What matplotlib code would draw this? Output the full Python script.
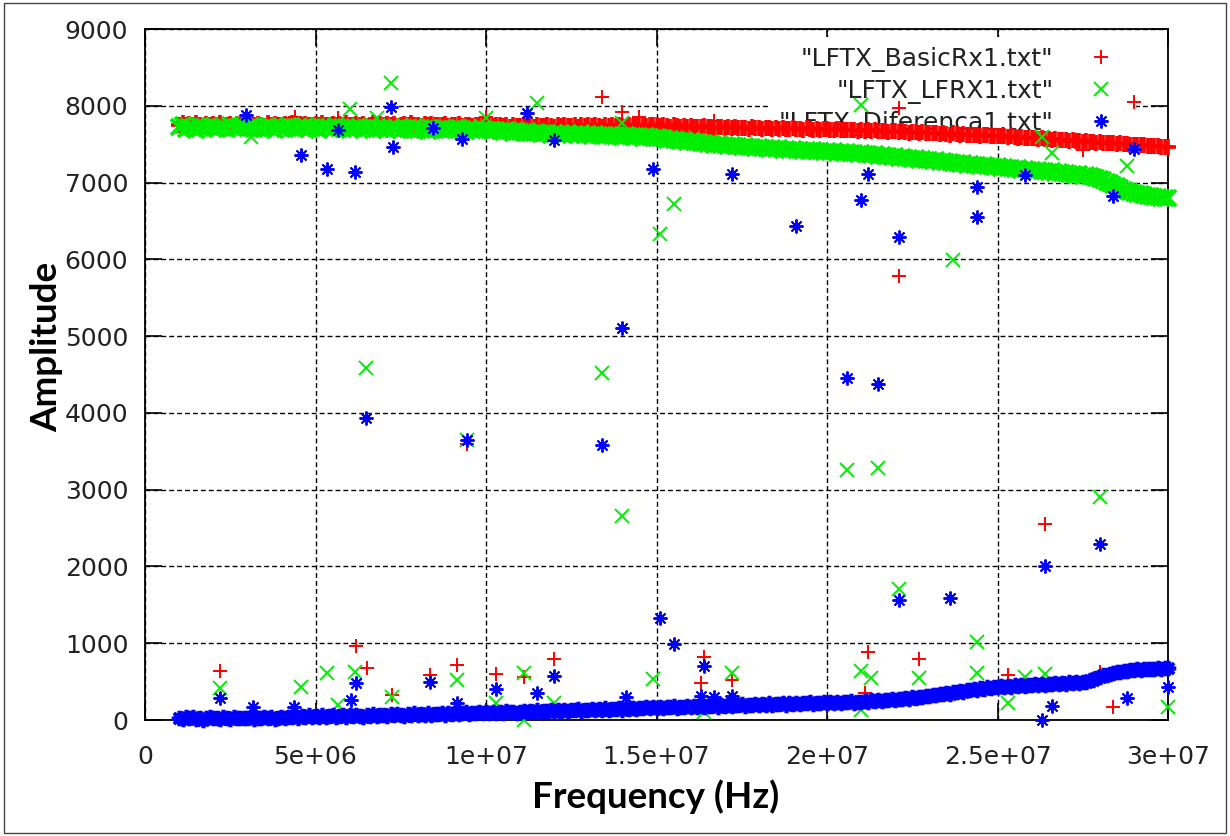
import matplotlib
matplotlib.use("Agg")
import matplotlib.pyplot as plt
from matplotlib.patches import Rectangle
import numpy as np

# frequency sweep (Hz) shared by the three files, 100 kHz steps
sweep_hz = np.linspace(1.0e6, 3.0e7, 291)

basic_sweep = [
    7755, 7770, 7745, 7760, 7750, 7775, 7755, 7740, 7765, 7750, 7760, 7745, 7770, 7755, 7750, 7765, 7740, 7760, 7755, 7770,
    7750, 7760, 7745, 7765, 7755, 7740, 7770, 7750, 7760, 7745, 7755, 7765, 7750, 7775, 7745, 7760, 7750, 7765, 7755, 7745,
    7760, 7750, 7770, 7745, 7755, 7765, 7740, 7760, 7750, 7770, 7755, 7745, 7765, 7750, 7760, 7740, 7755, 7770, 7750, 7760,
    7745, 7760, 7750, 7765, 7740, 7755, 7760, 7745, 7770, 7750, 7755, 7740, 7760, 7750, 7765, 7745, 7755, 7750, 7760, 7740,
    7755, 7745, 7760, 7740, 7750, 7755, 7735, 7750, 7745, 7760, 7740, 7750, 7735, 7745, 7755, 7740, 7750, 7730, 7745, 7740,
    7735, 7750, 7740, 7745, 7730, 7750, 7740, 7735, 7755, 7740, 7730, 7745, 7740, 7750, 7735, 7740, 7745, 7730, 7750, 7740,
    7745, 7735, 7750, 7740, 7730, 7745, 7740, 7750, 7735, 7745, 7740, 7730, 7750, 7740, 7745, 7735, 7750, 7740, 7745, 7755,
    7745, 7735, 7750, 7740, 7730, 7745, 7735, 7725, 7740, 7730, 7735, 7720, 7730, 7725, 7735, 7720, 7725, 7715, 7730, 7720,
    7715, 7725, 7710, 7720, 7705, 7715, 7710, 7700, 7720, 7705, 7710, 7700, 7715, 7705, 7700, 7710, 7695, 7705, 7700, 7695,
    7705, 7695, 7700, 7690, 7705, 7695, 7690, 7700, 7685, 7695, 7700, 7690, 7685, 7695, 7680, 7690, 7685, 7680, 7690, 7675,
    7685, 7675, 7680, 7670, 7680, 7665, 7675, 7670, 7660, 7670, 7665, 7655, 7665, 7660, 7650, 7660, 7655, 7645, 7655, 7650,
    7640, 7650, 7640, 7630, 7645, 7635, 7625, 7640, 7630, 7620, 7630, 7625, 7615, 7625, 7620, 7610, 7620, 7615, 7605, 7610,
    7605, 7600, 7605, 7590, 7600, 7590, 7585, 7590, 7580, 7585, 7575, 7580, 7570, 7575, 7565, 7570, 7560, 7565, 7555, 7560,
    7550, 7545, 7550, 7535, 7545, 7530, 7535, 7525, 7530, 7520, 7525, 7515, 7520, 7510, 7515, 7505, 7510, 7500, 7505, 7495,
    7495, 7490, 7485, 7490, 7480, 7475, 7480, 7470, 7465, 7465, 7460,
]
lfrx_sweep = [
    7720, 7745, 7700, 7730, 7715, 7690, 7735, 7720, 7705, 7740, 7715, 7695, 7730, 7720, 7700, 7745, 7715, 7705, 7735, 7720,
    7710, 7735, 7695, 7725, 7715, 7700, 7740, 7710, 7690, 7730, 7720, 7700, 7735, 7715, 7695, 7725, 7710, 7740, 7700, 7720,
    7710, 7690, 7730, 7705, 7720, 7695, 7735, 7710, 7700, 7725, 7690, 7715, 7705, 7730, 7695, 7710, 7720, 7685, 7715, 7700,
    7705, 7685, 7720, 7695, 7710, 7680, 7715, 7700, 7690, 7720, 7685, 7705, 7695, 7675, 7710, 7690, 7700, 7715, 7680, 7695,
    7700, 7680, 7710, 7690, 7675, 7705, 7685, 7695, 7670, 7700, 7680, 7690, 7665, 7685, 7675, 7660, 7680, 7665, 7650, 7670,
    7660, 7645, 7670, 7650, 7640, 7660, 7635, 7650, 7645, 7625, 7650, 7630, 7640, 7620, 7645, 7625, 7635, 7615, 7640, 7620,
    7630, 7610, 7635, 7620, 7605, 7625, 7615, 7600, 7620, 7610, 7595, 7615, 7605, 7590, 7610, 7600, 7585, 7605, 7595, 7580,
    7590, 7575, 7580, 7560, 7570, 7555, 7560, 7545, 7550, 7530, 7540, 7525, 7530, 7510, 7520, 7505, 7510, 7495, 7500, 7490,
    7495, 7480, 7490, 7470, 7480, 7465, 7475, 7460, 7465, 7450, 7460, 7445, 7455, 7440, 7450, 7435, 7445, 7430, 7440, 7425,
    7435, 7420, 7430, 7415, 7425, 7410, 7420, 7405, 7415, 7400, 7410, 7395, 7405, 7390, 7400, 7385, 7395, 7380, 7390, 7375,
    7385, 7370, 7375, 7360, 7370, 7350, 7360, 7345, 7350, 7335, 7340, 7325, 7330, 7315, 7325, 7305, 7315, 7300, 7305, 7290,
    7295, 7280, 7290, 7270, 7280, 7265, 7270, 7255, 7260, 7245, 7250, 7235, 7245, 7225, 7235, 7220, 7225, 7210, 7220, 7205,
    7210, 7195, 7205, 7185, 7195, 7180, 7185, 7170, 7180, 7160, 7170, 7155, 7160, 7145, 7155, 7135, 7145, 7130, 7135, 7120,
    7125, 7110, 7115, 7100, 7105, 7090, 7095, 7080, 7070, 7060, 7045, 7030, 7010, 6990, 6970, 6950, 6925, 6905, 6890, 6875,
    6860, 6850, 6845, 6835, 6830, 6820, 6815, 6810, 6805, 6800, 6795,
]
dif_sweep = [
    25, 10, 40, 20, 35, 15, 30, 5, 25, 40, 20, 30, 10, 35, 25, 15, 40, 20, 30, 25,
    20, 40, 15, 30, 25, 45, 20, 35, 15, 30, 40, 25, 45, 35, 55, 30, 50, 40, 60, 45,
    55, 35, 60, 45, 50, 70, 40, 55, 65, 45, 60, 50, 70, 55, 45, 65, 55, 75, 50, 60,
    70, 55, 75, 60, 80, 65, 55, 75, 70, 85, 60, 80, 70, 90, 65, 80, 75, 95, 70, 85,
    80, 95, 75, 90, 100, 80, 95, 85, 105, 90, 100, 85, 110, 95, 105, 90, 115, 100, 110, 95,
    105, 120, 100, 115, 110, 125, 105, 120, 115, 130, 110, 125, 120, 135, 115, 130, 125, 140, 120, 135,
    130, 145, 125, 140, 135, 150, 130, 145, 140, 155, 135, 150, 145, 160, 140, 155, 150, 165, 155, 170,
    160, 175, 155, 170, 165, 180, 160, 175, 170, 185, 165, 180, 175, 190, 170, 185, 180, 195, 175, 190,
    185, 200, 180, 195, 190, 205, 185, 200, 195, 210, 190, 205, 200, 215, 195, 210, 205, 220, 200, 215,
    210, 225, 205, 220, 215, 230, 210, 225, 220, 235, 215, 230, 225, 240, 220, 235, 230, 245, 225, 240,
    235, 250, 240, 255, 245, 260, 250, 265, 255, 275, 265, 280, 270, 290, 280, 295, 290, 305, 300, 315,
    310, 325, 320, 340, 335, 350, 345, 365, 360, 380, 370, 390, 385, 400, 395, 415, 405, 425, 415, 430,
    425, 440, 430, 445, 435, 450, 440, 455, 445, 460, 450, 465, 455, 470, 460, 475, 465, 480, 470, 485,
    475, 490, 480, 495, 485, 500, 495, 515, 520, 545, 560, 580, 590, 605, 610, 625, 620, 640, 635, 650,
    645, 660, 650, 665, 660, 670, 665, 675, 670, 680, 675,
]

# stray samples off the main trace
basic_f = [2.2e6, 6.2e6, 6.5e6, 7.24e6, 8.36e6, 9.15e6, 1.03e7, 1.11e7, 1.2e7,
           1.63e7, 1.64e7, 1.72e7, 2.11e7, 2.12e7, 2.27e7, 2.53e7, 2.64e7, 2.8e7,
           2.84e7, 9.45e6, 2.21e7, 4.4e6, 5.66e6, 1.0e7, 1.34e7, 1.4e7, 1.45e7,
           1.67e7, 2.21e7, 2.9e7, 2.75e7]
basic_a = [640, 965, 680, 325, 585, 716, 600, 560, 790,
           480, 820, 520, 350, 885, 790, 590, 2550, 630,
           170, 3590, 5780, 7850, 7840, 7850, 8115, 7920, 7860,
           7800, 7970, 8050, 7430]

lfrx_f = [2.2e6, 4.57e6, 5.33e6, 6.15e6, 5.66e6, 7.24e6, 9.15e6, 1.11e7, 1.03e7,
          1.11e7, 1.2e7, 1.49e7, 1.72e7, 1.64e7, 2.1e7, 2.13e7, 2.1e7, 2.27e7,
          2.21e7, 2.44e7, 2.44e7, 2.53e7, 2.58e7, 2.64e7, 2.8e7, 3.0e7,
          6.48e6, 9.45e6, 1.34e7, 1.4e7, 1.51e7, 1.55e7, 2.06e7, 2.15e7, 2.37e7,
          7.2e6, 3.1e6, 6.0e6, 6.8e6, 1.0e7, 1.15e7, 1.4e7, 2.1e7, 2.63e7,
          2.66e7, 2.88e7]
lfrx_a = [415, 430, 610, 625, 195, 300, 520, 610, 220,
          0, 220, 535, 610, 100, 640, 545, 130, 545,
          1705, 1015, 610, 220, 560, 600, 2905, 170,
          4585, 3650, 4520, 2660, 6330, 6720, 3255, 3280, 5990,
          8300, 7590, 7960, 7840, 7840, 8035, 7775, 8010, 7590,
          7385, 7215]

dif_f = [2.96e6, 4.57e6, 5.34e6, 6.16e6, 5.66e6, 7.21e6, 7.27e6, 8.45e6, 9.3e6,
         1.12e7, 1.2e7, 1.49e7, 1.72e7, 2.12e7, 2.1e7, 1.91e7, 2.21e7, 2.44e7,
         2.44e7, 2.58e7, 2.84e7, 2.9e7,
         1.34e7, 1.4e7, 9.45e6, 6.48e6, 2.06e7, 2.15e7, 2.36e7, 2.21e7, 2.64e7,
         2.8e7, 1.51e7, 1.55e7,
         2.2e6, 3.17e6, 4.37e6, 6.2e6, 6.04e6, 8.36e6, 9.15e6, 1.03e7, 1.15e7,
         1.2e7, 1.41e7, 1.64e7, 1.63e7, 1.67e7, 1.72e7, 2.63e7, 2.66e7, 2.88e7,
         3.0e7]
dif_a = [7880, 7360, 7175, 7140, 7685, 7985, 7465, 7710, 7570,
         7905, 7555, 7175, 7110, 7110, 6775, 6435, 6290, 6945,
         6550, 7100, 6825, 7440,
         3580, 5105, 3650, 3935, 4455, 4375, 1590, 1565, 2005,
         2290, 1330, 990,
         290, 170, 170, 480, 260, 500, 220, 400, 350,
         575, 300, 700, 310, 300, 310, 0, 180, 285,
         430]

series = [
    ('"LFTX_BasicRx1.txt"', basic_sweep, basic_f, basic_a, "#ff0000", "+"),
    ('"LFTX_LFRX1.txt"', lfrx_sweep, lfrx_f, lfrx_a, "#00ee00", "x"),
    ('"LFTX_Diferenca1.txt"', dif_sweep, dif_f, dif_a, "#0000ff", (8, 2, 0)),
]

xticks = [0, 5e6, 1e7, 1.5e7, 2e7, 2.5e7, 3e7]
xtick_labels = ["0", "5e+06", "1e+07", "1.5e+07", "2e+07", "2.5e+07", "3e+07"]
yticks = list(range(0, 9001, 1000))

W, H = 1230, 836
fig = plt.figure(figsize=(W / 100, H / 100), dpi=100)
ax = fig.add_axes([145 / W, 1 - 720 / H, 1023 / W, 691 / H])

for i, (name, sweep, fx, fy, col, mk) in enumerate(series):
    # the dense sweep piles up into a solid band
    ax.plot(sweep_hz, sweep, linestyle="none", marker=mk, color=col, markersize=11,
            markeredgewidth=2.6, clip_on=False, zorder=3 + i)
    ax.plot(fx, fy, linestyle="none", marker=mk, color=col, markersize=10,
            markeredgewidth=1.4, label=name, clip_on=False, zorder=3 + i)

ax.set_xlim(0, 3e7)
ax.set_ylim(0, 9000)
ax.set_xticks(xticks)
ax.set_xticklabels(xtick_labels)
ax.set_yticks(yticks)
ax.set_axisbelow(True)
ax.grid(True, color="black", linestyle=(0, (3.5, 2.2)), linewidth=1.0)
ax.tick_params(direction="in", length=12, width=1.2, top=True, right=True,
               labelsize=18, labelcolor="#222222")
ax.tick_params(axis="x", pad=18)
ax.tick_params(axis="y", pad=12)
for sp in ax.spines.values():
    sp.set_linewidth(1.3)

leg = ax.legend(loc="upper right", bbox_to_anchor=((1136 - 145) / 1023, (720 - 37) / 691),
                markerfirst=False, frameon=True, fancybox=False, framealpha=1,
                facecolor="white", edgecolor="none", fontsize=18,
                handlelength=2.0, handletextpad=0.9, borderpad=0.4,
                labelspacing=0.27, borderaxespad=0)
for t in leg.get_texts():
    t.set_color("#222222")
leg.set_zorder(1)

lab_font = dict(family="Lato", weight="bold", size=26.5)
fig.text(47 / W, 1 - 347 / H, "Amplitude", rotation=90, ha="center", va="center", **lab_font)
fig.text(656 / W, 1 - 797 / H, "Frequency (Hz)", ha="center", va="center", **lab_font)

fig.patches.append(Rectangle((4 / W, 3 / H), 1222 / W, 830 / H, transform=fig.transFigure,
                             fill=False, edgecolor="#444444", linewidth=1.0))

fig.savefig("out.png", dpi=100)
